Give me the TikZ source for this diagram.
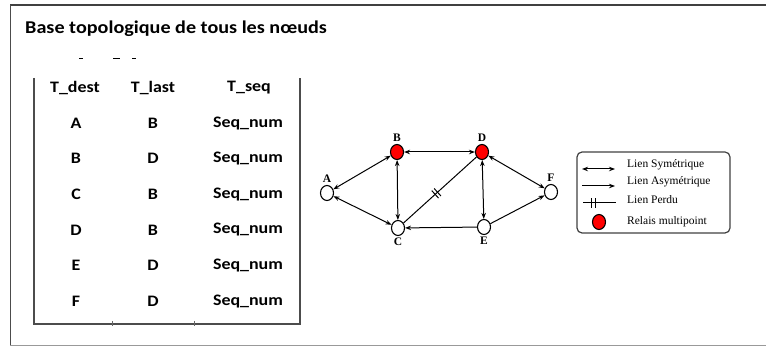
\documentclass[tikz,border=0pt]{standalone}
\usepackage{fontspec}
\usepackage{tikz}
\usetikzlibrary{arrows.meta}
\usetikzlibrary{shapes.geometric}
\usetikzlibrary{decorations.markings}
\setmainfont{Liberation Serif}
\newfontfamily\calib{Carlito}[FakeStretch=1.12]

\begin{document}
\begin{tikzpicture}[x=1pt,y=-1pt,
  station/.style={ellipse,draw=black,line width=1.1pt,fill=white,minimum width=13pt,minimum height=15pt,inner sep=0pt},
  relay/.style={station,fill=red},
  lbl/.style={font=\bfseries\fontsize{11.5}{11.5}\selectfont,inner sep=0pt},
  cell/.style={font=\calib\bfseries\fontsize{16}{16}\selectfont,inner sep=0pt},
  sym/.style={line width=1pt,{Stealth[length=6pt,width=4.5pt]}-{Stealth[length=6pt,width=4.5pt]}},
  asym/.style={line width=1pt,-{Stealth[length=6pt,width=4.5pt]}},
  lost/.style={line width=1pt,postaction={decorate},
    decoration={markings,mark=at position #1 with {\draw[line width=1pt] (-1.6pt,-5pt) -- (-1.6pt,5pt) (1.6pt,-5pt) -- (1.6pt,5pt);}}},
  lost/.default=0.5,
  legtext/.style={font=\fontsize{11.5}{11.5}\selectfont,anchor=west,inner sep=0pt}
]
\useasboundingbox (0,0) rectangle (766,347);

% frame
\draw[line width=1.6pt,black!75] (766,5) -- (10,5);
\draw[line width=1pt,black!70] (10,5) -- (10,346);
\draw[line width=1pt,black!40] (10,346) -- (766,346);

\node[font=\calib\bfseries\fontsize{18}{18}\selectfont,anchor=base west,inner sep=0pt] (title) at (25,34) {Base topologique de tous les nœuds};
\draw[line width=1pt] (79,59) -- (83,59) (113,59) -- (120,59) (132,59) -- (136,59);

% table
\draw[line width=1.3pt,black!70] (34,78) -- (34,324) -- (300,324) -- (300,78);
\draw[line width=1pt,black!60] (112,321) -- (112,326) (194,321) -- (194,326);

\node[cell] (hdest) at (75,88) {T\_dest};
\node[cell] (hlast) at (153,88) {T\_last};
\node[cell] (hseq) at (249,88) {T\_seq};
\foreach \d/\l [count=\i] in {A/B,B/D,C/B,D/B,E/D,F/D} {
  \node[cell] (dest\i) at (76,{87.5+35.6*\i}) {\d};
  \node[cell] (last\i) at (153,{87.5+35.6*\i}) {\l};
  \node[cell] (seq\i) at (248,{87.5+35.6*\i}) {Seq\_num};
}

% graph
\node[station,label={[lbl,label distance=2pt]above:A}] (A) at (327,193) {};
\node[relay,label={[lbl,label distance=2pt]above:B}] (B) at (397,152) {};
\node[station,label={[lbl,label distance=2pt]below:C}] (C) at (398,228) {};
\node[relay,label={[lbl,label distance=2pt]above:D}] (D) at (482,152) {};
\node[station,label={[lbl,label distance=2pt]below:E}] (E) at (484,227) {};
\node[station,label={[lbl,label distance=2pt]above:F}] (F) at (551,192) {};

\draw[sym] (A) -- (B);
\draw[sym] (A) -- (C);
\draw[sym] (B) -- (C);
\draw[sym] (B) -- (D);
\draw[sym] (D) -- (E);
\draw[sym] (D) -- (F);
\draw[asym] (E) -- (C);
\draw[asym] (E) -- (F);
\draw[lost=0.45] (C) -- (D);

% legend
\node[draw=black!75,line width=1.2pt,rounded corners=5pt,minimum width=153pt,minimum height=81pt] (legend) at (653.5,192.5) {};
\coordinate (symL) at (582,169);
\coordinate (symR) at (615,169);
\coordinate (asymL) at (582,186);
\coordinate (asymR) at (615,186);
\coordinate (lostL) at (583,203);
\coordinate (lostR) at (616,203);
\draw[sym] (symL) -- (symR);
\draw[asym] (asymL) -- (asymR);
\draw[lost=0.32] (lostL) -- (lostR);
\node[relay] (mpr) at (599,222) {};
\node[legtext] (tsym) at (627,165) {Lien Symétrique};
\node[legtext] (tasym) at (627,182) {Lien Asymétrique};
\node[legtext] (tlost) at (627,200) {Lien Perdu};
\node[legtext] (tmpr) at (627,222) {Relais multipoint};

\end{tikzpicture}
\end{document}
